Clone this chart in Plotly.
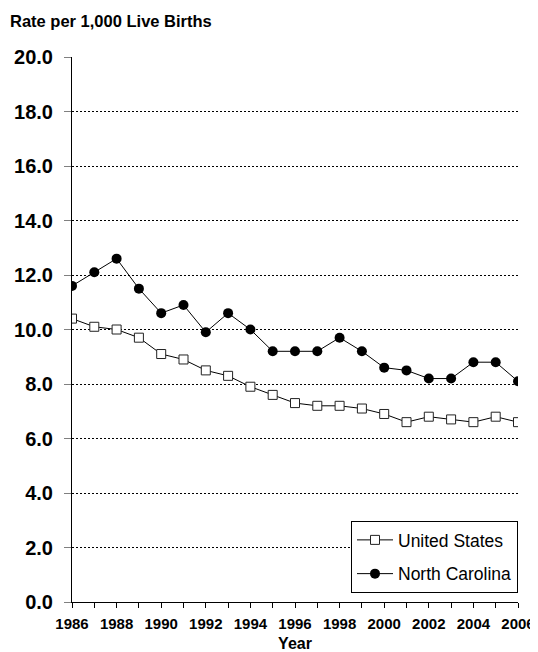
import plotly.graph_objects as go

years = list(range(1986, 2007))
us_rate = [10.4, 10.1, 10.0, 9.7, 9.1, 8.9, 8.5, 8.3, 7.9, 7.6, 7.3,
           7.2, 7.2, 7.1, 6.9, 6.6, 6.8, 6.7, 6.6, 6.8, 6.6]
nc_rate = [11.6, 12.1, 12.6, 11.5, 10.6, 10.9, 9.9, 10.6, 10.0, 9.2, 9.2,
           9.2, 9.7, 9.2, 8.6, 8.5, 8.2, 8.2, 8.8, 8.8, 8.1]
y_ticks = [0, 2, 4, 6, 8, 10, 12, 14, 16, 18, 20]
x_ticks = list(range(1986, 2007, 2))

font = "Liberation Sans, Arial, sans-serif"

fig = go.Figure()
fig.add_trace(go.Scatter(
    x=years, y=us_rate, mode="lines+markers", name="United States",
    legendgroup="us",
    line=dict(color="black", width=1),
    marker=dict(symbol="square", size=9, color="white",
                line=dict(color="#222222", width=1)),
))
fig.add_trace(go.Scatter(
    x=years, y=nc_rate, mode="lines+markers", name="North Carolina",
    legendgroup="nc",
    line=dict(color="black", width=1),
    marker=dict(symbol="circle", size=10, color="black"),
))

# page body has an 8px margin, so the figure is sized 8px smaller
fig.update_layout(
    width=530, height=644,
    margin=dict(l=64, r=20, t=49, b=50, autoexpand=False),
    paper_bgcolor="white", plot_bgcolor="white",
    font=dict(family=font, color="black"),
    showlegend=True,
    legend=dict(
        x=1.0, y=0.1486, xanchor="right", yanchor="top",
        bgcolor="white", bordercolor="black", borderwidth=1,
        font=dict(size=17.5, family=font), itemwidth=36,
        tracegroupgap=8,
    ),
    annotations=[dict(
        text="<b>Rate per 1,000 Live Births</b>", xref="paper", yref="paper",
        x=-0.1435, y=1.0, xanchor="left", yanchor="middle", yshift=36,
        showarrow=False, font=dict(size=16.5, family=font),
    )],
)

fig.update_xaxes(
    range=[1986, 2006], tickvals=x_ticks,
    ticktext=[f"<b>{y}</b>" for y in x_ticks],
    tickfont=dict(size=15), ticks="outside", ticklen=5, tickcolor="black",
    ticklabelstandoff=3, ticklabeloverflow="allow",
    minor=dict(dtick=1, ticks="outside", ticklen=5, tickcolor="black"),
    showline=True, linecolor="black", linewidth=1, showgrid=False,
    zeroline=False, automargin=False,
    title=dict(text="<b>Year</b>", font=dict(size=16), standoff=11),
)
fig.update_yaxes(
    range=[0, 20], tickvals=y_ticks,
    ticktext=[f"<b>{v:.1f}</b>" for v in y_ticks],
    tickfont=dict(size=20), ticks="outside", ticklen=7, tickcolor="gray",
    ticklabelstandoff=7,
    showline=True, linecolor="black", linewidth=1,
    showgrid=True, gridcolor="black", griddash="2px,2px", gridwidth=1,
    zeroline=False, automargin=False,
)

fig.write_html("out.html")
